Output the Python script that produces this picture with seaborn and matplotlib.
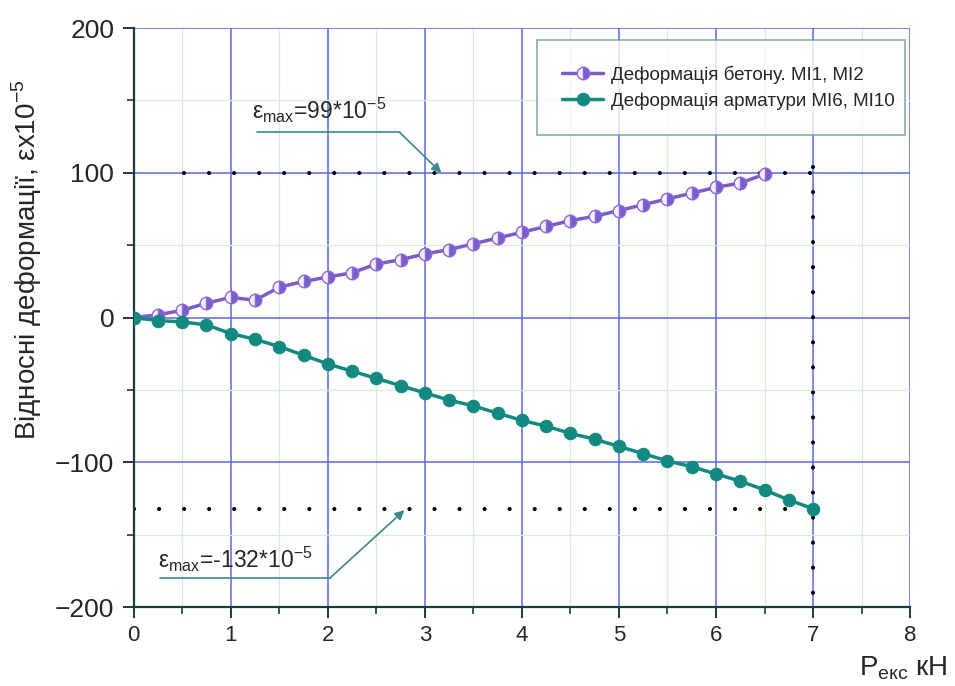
import numpy as np
import matplotlib
matplotlib.use('Agg')
import matplotlib.pyplot as plt
import seaborn as sns
from matplotlib.ticker import MultipleLocator

# Дані
p_beton = [0, 0.25, 0.5, 0.75, 1.0, 1.25, 1.5, 1.75, 2.0, 2.25, 2.5, 2.75, 3.0, 3.25,
           3.5, 3.75, 4.0, 4.25, 4.5, 4.75, 5.0, 5.25, 5.5, 5.75, 6.0, 6.25, 6.5]
e_beton = [0, 2, 5, 10, 14, 12, 21, 25, 28, 31, 37, 40, 44, 47,
           51, 55, 59, 63, 67, 70, 74, 78, 82, 86, 90, 93, 99]

p_arm = [0, 0.25, 0.5, 0.75, 1.0, 1.25, 1.5, 1.75, 2.0, 2.25, 2.5, 2.75, 3.0, 3.25,
         3.5, 3.75, 4.0, 4.25, 4.5, 4.75, 5.0, 5.25, 5.5, 5.75, 6.0, 6.25, 6.5, 6.75, 7.0]
e_arm = [0, -2, -3, -5, -11, -15, -20, -26, -32, -37, -42, -47, -52, -57,
         -61, -66, -71, -75, -80, -84, -89, -94, -99, -103, -108, -113, -119, -126, -132]

e_max_beton = 99
e_max_arm = -132
p_max = 7

sns.set_style('white')
plt.rcParams['font.family'] = ['Liberation Sans', 'DejaVu Sans']

fig = plt.figure(figsize=(9.55, 6.86), dpi=100)
ax = fig.add_axes([0.140, 0.115, 0.813, 0.844])

# Сітка
ax.xaxis.set_major_locator(MultipleLocator(1))
ax.xaxis.set_minor_locator(MultipleLocator(0.5))
ax.yaxis.set_major_locator(MultipleLocator(100))
ax.yaxis.set_minor_locator(MultipleLocator(50))
ax.grid(which='major', color='#5a68e0', linewidth=1.1)
ax.grid(which='minor', color='#d8ecd8', linewidth=0.9)
ax.set_axisbelow(True)

# Пунктирні лінії максимумів
dot = dict(color='black', linewidth=3, linestyle=(0, (0.01, 6.0)), dash_capstyle='round', zorder=2)
ax.plot([0.52, p_max], [100, 100], **dot)
ax.plot([0, p_max], [e_max_arm, e_max_arm], **dot)
ax.plot([p_max, p_max], [104, -200], **dot)

sns.lineplot(x=p_beton, y=e_beton, ax=ax, color='#7a5ccc', linewidth=2.5,
             marker='o', markersize=9, fillstyle='right', markerfacecoloralt='#f4eefa',
             markeredgecolor='#8a6ad8', markeredgewidth=1,
             label='Деформація бетону. МІ1, МІ2', zorder=4)
sns.lineplot(x=p_arm, y=e_arm, ax=ax, color='#138a80', linewidth=2.5,
             marker='o', markersize=9, markeredgecolor='#138a80',
             label='Деформація арматури МІ6, МІ10', zorder=4)

# Анотації
ann_col = '#3f8888'
ax.plot([1.27, 2.74], [128, 128], color=ann_col, linewidth=1.2)
ax.annotate('', xy=(3.17, 100), xytext=(2.74, 128),
            arrowprops=dict(arrowstyle='-|>', color=ann_col, lw=1.2, mutation_scale=14,
                            shrinkA=0, shrinkB=0))
ax.text(1.22, 133, r'$\mathregular{\varepsilon_{max}}$=99*10$^{\mathregular{-5}}$',
        fontsize=16.5, ha='left', va='bottom')

ax.plot([0.27, 2.02], [-180, -180], color=ann_col, linewidth=1.2)
ax.annotate('', xy=(2.79, -133), xytext=(2.02, -180),
            arrowprops=dict(arrowstyle='-|>', color=ann_col, lw=1.2, mutation_scale=14,
                            shrinkA=0, shrinkB=0))
ax.text(0.25, -177, r'$\mathregular{\varepsilon_{max}}$=-132*10$^{\mathregular{-5}}$',
        fontsize=16.5, ha='left', va='bottom')

ax.set_xlim(0, 8)
ax.set_ylim(-200, 200)
ax.set_yticks([-200, -100, 0, 100, 200])
ax.set_yticklabels(['\u2212200', '\u2212100', '0', '100', '200'])

for s in ['top', 'right']:
    ax.spines[s].set_visible(False)
for s in ['left', 'bottom']:
    ax.spines[s].set_color('#1e3a3a')
    ax.spines[s].set_linewidth(1.6)
ax.tick_params(which='major', direction='out', length=8, width=1.4, color='#1e3a3a',
               labelsize=19, left=True, bottom=True, pad=6)
ax.tick_params(which='minor', direction='out', length=5, width=1.2, color='#1e3a3a',
               left=True, bottom=True)
ax.tick_params(axis='x', labelsize=16, pad=5)

ax.set_ylabel('Відносні деформації, \u03b5x10$^{\mathregular{-5}}$', fontsize=20)
ax.yaxis.set_label_coords(-0.116, 0.60)
ax.set_xlabel('')
fig.text(0.899, 0.016, r'P$_{\mathregular{екс}}$ кН', fontsize=20, ha='left', va='baseline')

leg = ax.legend(loc='upper left', bbox_to_anchor=(0.519, 0.979, 0.475, 0.0), mode='expand',
                frameon=True, fancybox=False, fontsize=13.5, handlelength=2.2,
                handletextpad=0.4, labelspacing=0.45, borderaxespad=0, borderpad=1.35)
leg.get_frame().set_edgecolor('#6a9a9a')
leg.get_frame().set_linewidth(1.2)

fig.savefig('out.png', dpi=100)
